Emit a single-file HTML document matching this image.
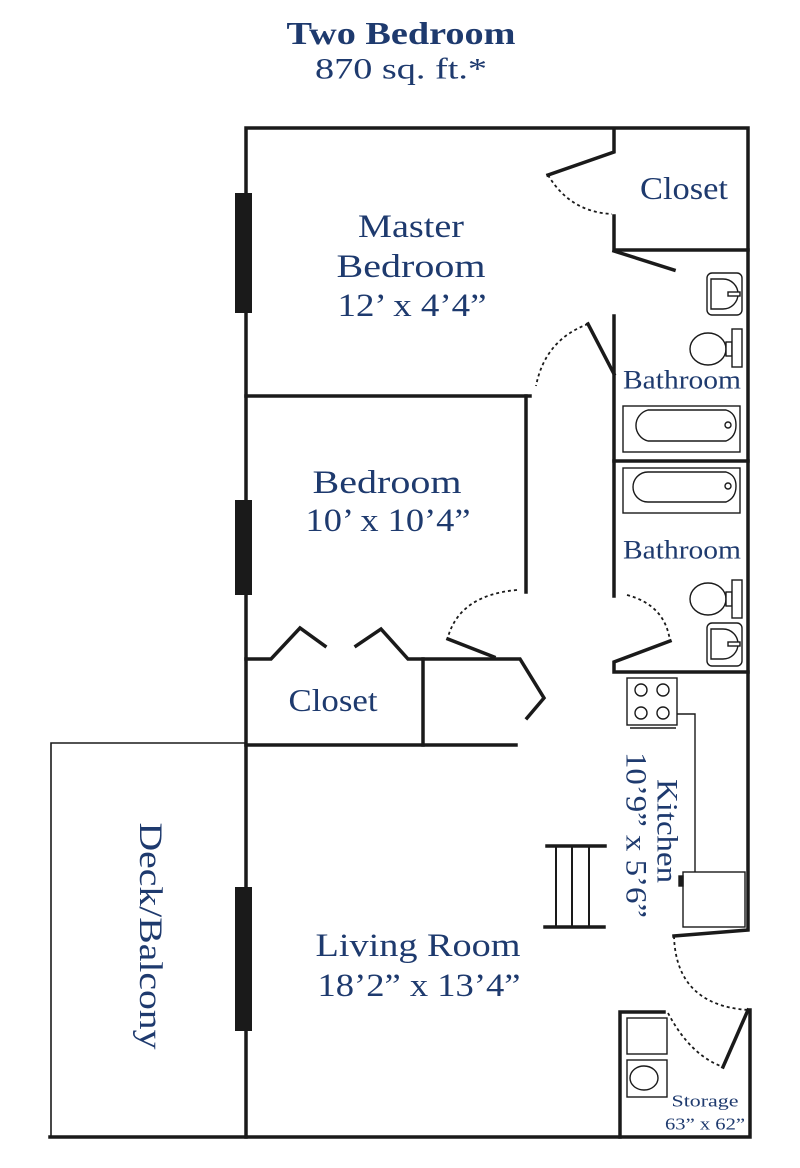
<!DOCTYPE html>
<html><head><meta charset="utf-8"><style>
html,body{margin:0;padding:0;background:#fff;width:800px;height:1168px;overflow:hidden}
svg{display:block}
text{font-family:"Liberation Serif",serif;fill:#1e3a6e;text-anchor:middle;dominant-baseline:central}
</style></head><body>
<svg width="800" height="1168" viewBox="0 0 800 1168" xmlns="http://www.w3.org/2000/svg">
<text x="401" y="33" font-size="32" font-weight="bold" textLength="229" lengthAdjust="spacingAndGlyphs">Two Bedroom</text>
<text x="401" y="69" font-size="30" textLength="172" lengthAdjust="spacingAndGlyphs">870 sq. ft.*</text>

<g stroke="#1a1a1a" fill="none" stroke-width="3.5" stroke-linecap="square">
<polyline points="246,1137 246,128 748,128 748,930 674,936"/>
<polyline points="750,1010 750,1137 50,1137"/>
<line x1="748" y1="1010" x2="723" y2="1067"/>
<polyline points="548,175 614,152 614,130"/>
<polyline points="614,216 614,250 748,250"/>
<line x1="614" y1="251" x2="674" y2="270"/>
<line x1="614" y1="316" x2="614" y2="596"/>
<line x1="614" y1="374" x2="588" y2="324"/>
<line x1="614" y1="461" x2="748" y2="461"/>
<polyline points="670,641 614,662 614,672 748,672"/>
<polyline points="246,396 530,396"/>
<line x1="526" y1="396" x2="526" y2="592"/>
<line x1="448" y1="639" x2="494" y2="657"/>
<polyline points="246,659 271,659 300,628 325,646"/>
<polyline points="356,646 381,629 408,659 520,659 544,698 527,718"/>
<line x1="423" y1="659" x2="423" y2="745"/>
<line x1="246" y1="745" x2="516" y2="745"/>
<polyline points="620,1137 620,1012 664,1012"/>
<line x1="547" y1="846" x2="605" y2="846"/>
<line x1="545" y1="927" x2="604" y2="927"/>
</g>
<g stroke="#1a1a1a" fill="none" stroke-width="2">
<line x1="556" y1="846" x2="556" y2="927"/>
<line x1="572" y1="846" x2="572" y2="927"/>
<line x1="589" y1="846" x2="589" y2="927"/>
</g>
<polyline points="246,743 51,743 51,1137" stroke="#1a1a1a" fill="none" stroke-width="1.6"/>
<g fill="#1a1a1a">
<rect x="235" y="193" width="17" height="120"/>
<rect x="235" y="500" width="17" height="95"/>
<rect x="235" y="887" width="17" height="144"/>
</g>
<g stroke="#1a1a1a" fill="none" stroke-width="1.8" stroke-dasharray="3,3">
<path d="M548,175 Q570,212 612,214"/>
<path d="M588,324 Q545,340 536,386"/>
<path d="M517,590 Q460,595 448,637"/>
<path d="M627,595 Q665,605 670,641"/>
<path d="M674,936 Q676,1005 748,1010"/>
<path d="M668,1013 Q690,1055 723,1067"/>
</g>
<g stroke="#1a1a1a" fill="#fff" stroke-width="1.4">
<rect x="707" y="273" width="35" height="42" rx="5"/>
<path d="M711,279 h12 a14,14 0 0 1 0,30 h-12 z"/>
<rect x="728" y="292" width="12" height="4"/>
<ellipse cx="708" cy="349" rx="18" ry="16"/>
<rect x="726" y="342" width="6" height="14"/>
<rect x="732" y="329" width="10" height="38"/>
<rect x="623" y="406" width="117" height="46"/>
<path d="M648,410 h78 q10,3 10,15 q0,12 -10,16 h-78 a16,16 0 0 1 0,-31 z"/>
<circle cx="728" cy="425" r="3"/>
<rect x="623" y="468" width="117" height="45"/>
<path d="M648,472 h78 q10,3 10,14 q0,12 -10,16 h-78 a15,15 0 0 1 0,-30 z"/>
<circle cx="728" cy="486" r="3"/>
<ellipse cx="708" cy="599" rx="18" ry="16"/>
<rect x="726" y="592" width="6" height="14"/>
<rect x="732" y="580" width="10" height="38"/>
<rect x="707" y="623" width="35" height="43" rx="5"/>
<path d="M711,629 h12 a14,14 0 0 1 0,30 h-12 z"/>
<rect x="728" y="642" width="12" height="4"/>
<rect x="627" y="678" width="50" height="47"/>
<line x1="630" y1="728" x2="676" y2="728"/>
<circle cx="641" cy="690" r="6"/><circle cx="663" cy="690" r="6"/>
<circle cx="641" cy="713" r="6"/><circle cx="663" cy="713" r="6"/>
<polyline points="677,714 695,714 695,872" fill="none"/>
<rect x="683" y="872" width="62" height="55"/>
<rect x="679" y="876" width="4" height="10" fill="#1a1a1a"/>
<rect x="627" y="1018" width="40" height="36"/>
<rect x="627" y="1060" width="40" height="37"/>
<ellipse cx="644" cy="1078" rx="14" ry="12"/>
</g>

<text x="411" y="227" font-size="33" textLength="106" lengthAdjust="spacingAndGlyphs">Master</text>
<text x="411" y="267" font-size="33" textLength="149" lengthAdjust="spacingAndGlyphs">Bedroom</text>
<text x="412" y="306" font-size="33" textLength="149" lengthAdjust="spacingAndGlyphs">12’ x 4’4”</text>
<text x="684" y="188" font-size="32" textLength="88" lengthAdjust="spacingAndGlyphs">Closet</text>
<text x="682" y="380" font-size="26" textLength="118" lengthAdjust="spacingAndGlyphs">Bathroom</text>
<text x="682" y="550" font-size="26" textLength="118" lengthAdjust="spacingAndGlyphs">Bathroom</text>
<text x="387" y="483" font-size="33" textLength="149" lengthAdjust="spacingAndGlyphs">Bedroom</text>
<text x="388" y="521" font-size="33" textLength="165" lengthAdjust="spacingAndGlyphs">10’ x 10’4”</text>
<text x="333" y="700" font-size="32" textLength="89" lengthAdjust="spacingAndGlyphs">Closet</text>
<text x="418" y="946" font-size="33" textLength="205" lengthAdjust="spacingAndGlyphs">Living Room</text>
<text x="419" y="986" font-size="33" textLength="203" lengthAdjust="spacingAndGlyphs">18’2” x 13’4”</text>
<text transform="translate(150,936) rotate(90)" font-size="33" textLength="227" lengthAdjust="spacingAndGlyphs">Deck/Balcony</text>
<text transform="translate(667,831) rotate(90)" font-size="30" textLength="104" lengthAdjust="spacingAndGlyphs">Kitchen</text>
<text transform="translate(636,835) rotate(90)" font-size="30" textLength="166" lengthAdjust="spacingAndGlyphs">10’9” x 5’6”</text>
<text x="705" y="1101" font-size="17" textLength="67" lengthAdjust="spacingAndGlyphs">Storage</text>
<text x="705" y="1124" font-size="17" textLength="80" lengthAdjust="spacingAndGlyphs">63” x 62”</text>
</svg>
</body></html>
